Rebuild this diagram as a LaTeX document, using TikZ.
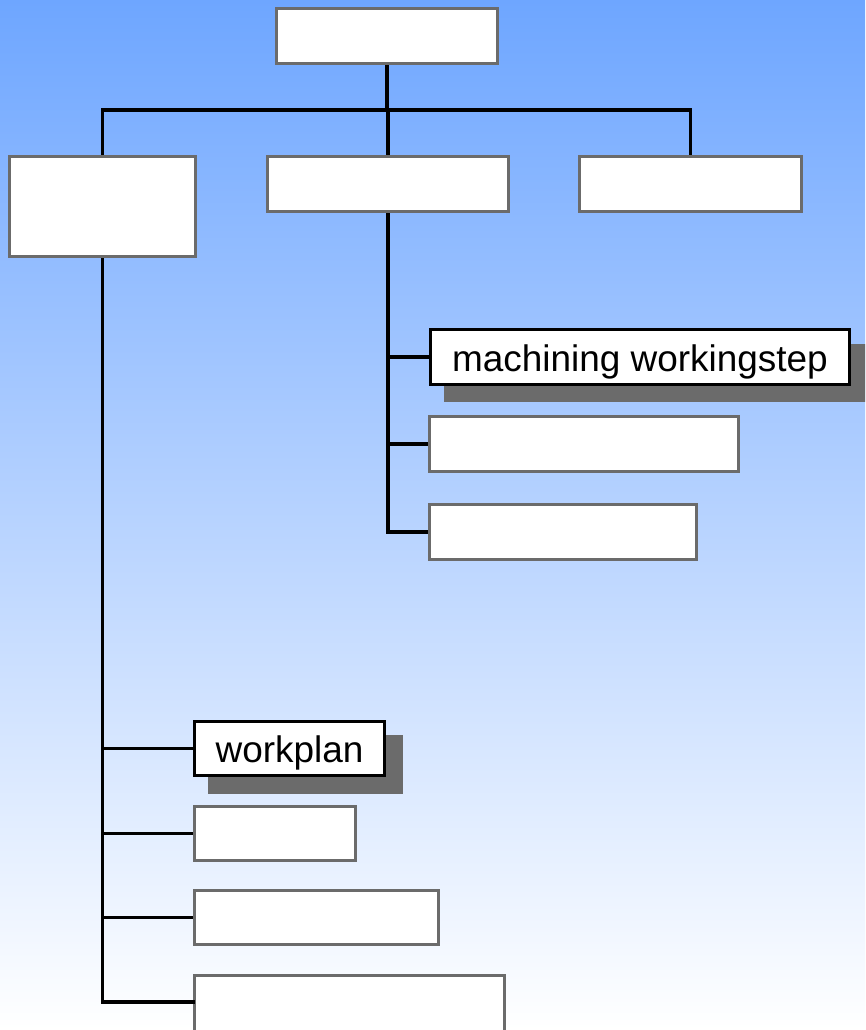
\documentclass[tikz,border=0pt]{standalone}
\usepackage{fontspec}
\setmainfont{Liberation Sans}
\usetikzlibrary{fit}
\definecolor{topblue}{HTML}{6EA6FF}
\definecolor{frame}{HTML}{6B6B6B}
\definecolor{shadowgray}{HTML}{6B6B6B}
\tikzset{
  grbox/.style={draw=frame, fill=white, line width=2.5pt, inner sep=0pt},
  blbox/.style={draw=black, fill=white, line width=2.5pt, inner sep=0pt},
  lbl/.style={font=\fontsize{27.7}{33}\selectfont, yshift=-3.5pt},
  conn/.style={draw=black, line width=2.9pt},
  shadowbox/.style={fill=shadowgray, draw=none}
}
\begin{document}
\begin{tikzpicture}[x=0.75pt,y=-0.75pt]
\useasboundingbox (0,0) rectangle (865,1030);
\shade[top color=topblue, bottom color=white] (0,0) rectangle (865,1030);
\begin{scope}
\clip (0,0) rectangle (865,1030);
% connectors (drawn first, boxes on top)
\coordinate (bus) at (0,110);
\coordinate (topS) at (387,64);
\coordinate (Ln) at (102.5,156);
\coordinate (Mn) at (388,156);
\coordinate (Rn) at (690.5,156);
\draw[conn] (topS) -- (topS |- bus);
\draw[conn] (Ln) -- (Ln |- bus) -- (Rn |- bus) -- (Rn);
\draw[conn] (Mn) -- (Mn |- bus);
% boxes
\node[grbox, fit={(276.5,8.5)(497.5,63.5)}] (top) {};
\node[grbox, fit={(9.5,156.5)(195.5,256.5)}] (L) {};
\node[grbox, fit={(267.5,156.5)(508.5,211.5)}] (M) {};
\node[grbox, fit={(579.5,156.5)(801.5,211.5)}] (R) {};
% middle children
\fill[shadowgray] (444,344) rectangle (866,402);
\node[blbox, fit={(430.5,329.5)(849.5,384.5)}] (m1) {};
\node[lbl] at (m1.center) {machining workingstep};
\node[grbox, fit={(429.5,416.5)(738.5,471.5)}] (m2) {};
\node[grbox, fit={(429.5,504.5)(696.5,559.5)}] (m3) {};
% left children
\fill[shadowgray] (208,735) rectangle (403,794);
\node[blbox, fit={(194.5,721.5)(384.5,775.5)}] (l1) {};
\node[lbl] at (l1.center) {workplan};
\node[grbox, fit={(194.5,806.5)(355.5,860.5)}] (l2) {};
\node[grbox, fit={(194.5,890.5)(438.5,944.5)}] (l3) {};
\node[grbox, fit={(194.5,975.5)(504.5,1040)}] (l4) {};
\coordinate (l4w) at (194.5,1002);
% child connectors
\draw[conn] (M.south) |- (m3.west);
\draw[conn] (M.south |- m1.west) -- (m1.west);
\draw[conn] (M.south |- m2.west) -- (m2.west);
\draw[conn] (L.south) |- (l4w);
\draw[conn] (L.south |- l1.west) -- (l1.west);
\draw[conn] (L.south |- l2.west) -- (l2.west);
\draw[conn] (L.south |- l3.west) -- (l3.west);
\end{scope}
\end{tikzpicture}
\end{document}
